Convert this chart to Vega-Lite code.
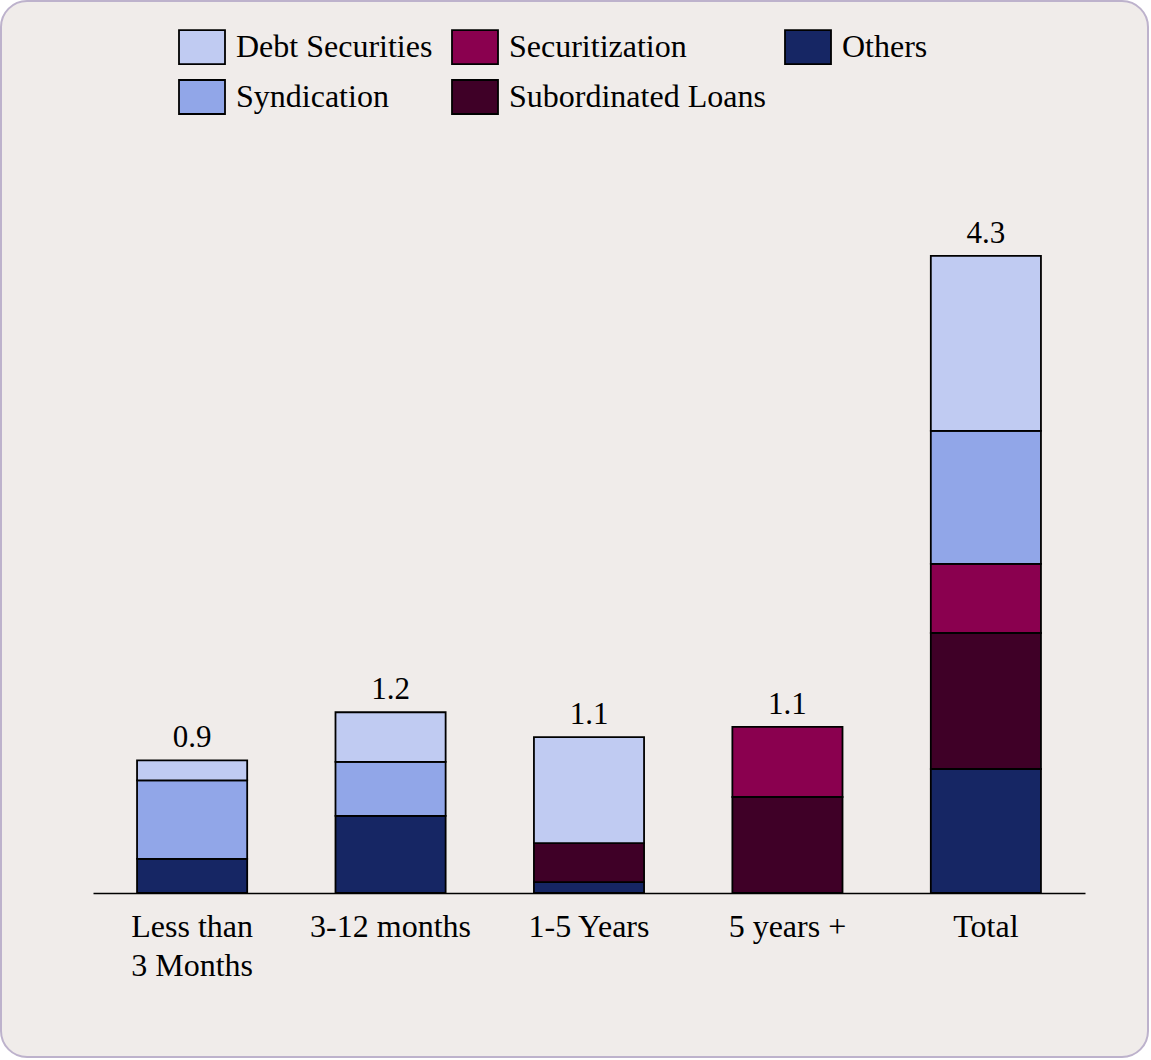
{
  "$schema": "https://vega.github.io/schema/vega-lite/v6.json",
  "width": 1147,
  "height": 1056,
  "autosize": {"type": "none"},
  "padding": {"left": 1, "top": 1, "right": 3, "bottom": 3},
  "background": "#ffffff",
  "config": {
    "view": {"fill": "#f0ecea", "stroke": "#bdb2cc", "strokeWidth": 2, "cornerRadius": 26},
    "font": "Liberation Serif"
  },
  "data": {
    "values": [
      {"period": "Less than 3 Months", "series": "Others", "value": 0.23},
      {"period": "Less than 3 Months", "series": "Syndication", "value": 0.53},
      {"period": "Less than 3 Months", "series": "Debt Securities", "value": 0.135},
      {"period": "3-12 months", "series": "Others", "value": 0.52},
      {"period": "3-12 months", "series": "Syndication", "value": 0.365},
      {"period": "3-12 months", "series": "Debt Securities", "value": 0.335},
      {"period": "1-5 Years", "series": "Others", "value": 0.074},
      {"period": "1-5 Years", "series": "Subordinated Loans", "value": 0.263},
      {"period": "1-5 Years", "series": "Debt Securities", "value": 0.715},
      {"period": "5 years +", "series": "Subordinated Loans", "value": 0.648},
      {"period": "5 years +", "series": "Securitization", "value": 0.473},
      {"period": "Total", "series": "Others", "value": 0.837},
      {"period": "Total", "series": "Subordinated Loans", "value": 0.918},
      {"period": "Total", "series": "Securitization", "value": 0.466},
      {"period": "Total", "series": "Syndication", "value": 0.898},
      {"period": "Total", "series": "Debt Securities", "value": 1.181}
    ]
  },
  "transform": [
    {"calculate": "indexof(['Others','Subordinated Loans','Securitization','Syndication','Debt Securities'], datum.series)", "as": "ord"}
  ],
  "encoding": {
    "x": {
      "field": "period",
      "type": "nominal",
      "sort": null,
      "scale": {"range": [92, 1084], "paddingInner": 0.445, "paddingOuter": 0.222},
      "axis": {
        "title": null,
        "labelAngle": 0,
        "labelFont": "Liberation Serif",
        "labelFontSize": 32,
        "labelColor": "black",
        "labelLimit": 400,
        "labelPadding": 18,
        "labelLineHeight": 39,
        "domainColor": "black",
        "domainWidth": 1.5,
        "ticks": false,
        "offset": -164,
        "labelExpr": "datum.label == 'Less than 3 Months' ? ['Less than', '3 Months'] : datum.label"
      }
    }
  },
  "layer": [
    {
      "mark": {"type": "bar", "stroke": "black", "strokeWidth": 1.8},
      "encoding": {
        "y": {
          "field": "value",
          "type": "quantitative",
          "stack": "zero",
          "scale": {"domain": [-1.107, 6.021], "nice": false, "zero": false},
          "axis": null
        },
        "order": {"field": "ord", "type": "quantitative", "sort": "ascending"},
        "color": {
          "field": "series",
          "type": "nominal",
          "scale": {
            "domain": ["Debt Securities", "Syndication", "Securitization", "Subordinated Loans", "Others"],
            "range": ["#c0cbf2", "#91a6e8", "#8a004f", "#3f0027", "#162664"]
          },
          "legend": {
            "orient": "none",
            "legendX": 177,
            "legendY": 22,
            "columns": 3,
            "title": null,
            "padding": 0,
            "symbolType": "M-1,-0.739H1V0.739H-1Z",
            "symbolSize": 2116,
            "symbolStrokeColor": "black",
            "symbolStrokeWidth": 1.8,
            "symbolOpacity": 1,
            "labelFont": "Liberation Serif",
            "labelFontSize": 32,
            "labelColor": "black",
            "labelOffset": 10,
            "labelLimit": 400,
            "columnPadding": 15,
            "rowPadding": 5
          }
        }
      }
    },
    {
      "mark": {"type": "text", "baseline": "alphabetic", "dy": -13, "fontSize": 31, "font": "Liberation Serif", "color": "black"},
      "encoding": {
        "y": {
          "aggregate": "sum",
          "field": "value",
          "type": "quantitative",
          "scale": {"domain": [-1.107, 6.021], "nice": false, "zero": false},
          "axis": null
        },
        "text": {"aggregate": "sum", "field": "value", "type": "quantitative", "format": ".1f"}
      }
    }
  ]
}
